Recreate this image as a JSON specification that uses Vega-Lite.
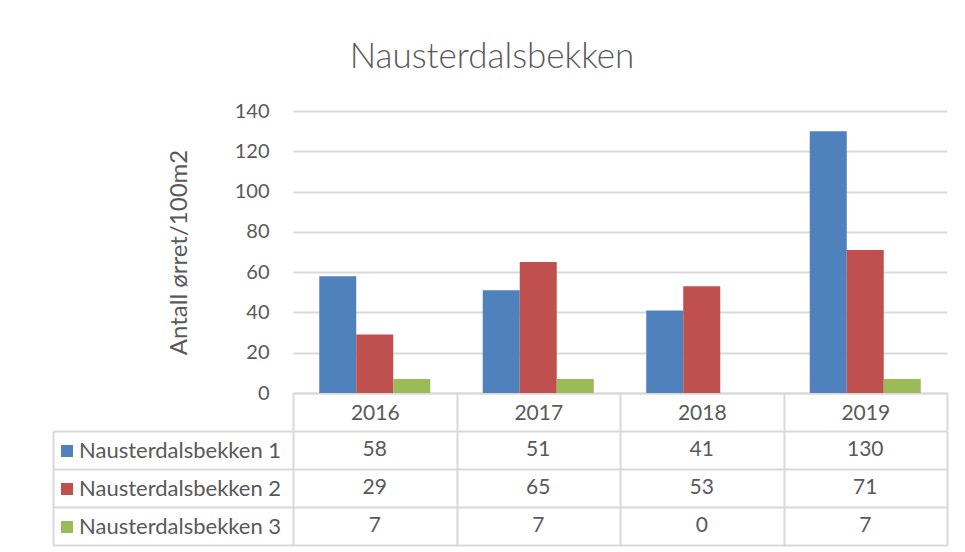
{
  "$schema": "https://vega.github.io/schema/vega-lite/v6.json",
  "background": "white",
  "padding": {"left": 52, "top": 40, "right": 5, "bottom": 5},
  "title": {"text": "Nausterdalsbekken", "fontSize": 35, "font": "Lato", "fontWeight": 300, "color": "#595959", "anchor": "middle", "offset": 26, "dx": -8},
  "config": {
    "font": "Lato",
    "view": {"stroke": null},
    "concat": {"spacing": -2}
  },
  "data": {
    "values": [
      {"year": "2016", "series": "Nausterdalsbekken 1", "value": 58},
      {"year": "2017", "series": "Nausterdalsbekken 1", "value": 51},
      {"year": "2018", "series": "Nausterdalsbekken 1", "value": 41},
      {"year": "2019", "series": "Nausterdalsbekken 1", "value": 130},
      {"year": "2016", "series": "Nausterdalsbekken 2", "value": 29},
      {"year": "2017", "series": "Nausterdalsbekken 2", "value": 65},
      {"year": "2018", "series": "Nausterdalsbekken 2", "value": 53},
      {"year": "2019", "series": "Nausterdalsbekken 2", "value": 71},
      {"year": "2016", "series": "Nausterdalsbekken 3", "value": 7},
      {"year": "2017", "series": "Nausterdalsbekken 3", "value": 7},
      {"year": "2018", "series": "Nausterdalsbekken 3", "value": 0},
      {"year": "2019", "series": "Nausterdalsbekken 3", "value": 7}
    ]
  },
  "resolve": {"scale": {"x": "shared", "y": "independent", "color": "shared"}},
  "vconcat": [
    {
      "width": 654,
      "height": 282,
      "mark": {"type": "bar"},
      "encoding": {
        "x": {
          "field": "year", "type": "nominal",
          "scale": {"paddingInner": 0, "paddingOuter": 0},
          "axis": {"title": null, "labelAngle": 0, "domainColor": "#d9d9d9", "domainWidth": 2, "tickColor": "#d9d9d9", "tickWidth": 2, "tickSize": 37, "tickBand": "extent", "labelPadding": -28, "labelFontSize": 21, "labelColor": "#595959", "grid": false}
        },
        "y": {
          "field": "value", "type": "quantitative",
          "scale": {"domain": [0, 140], "nice": false},
          "axis": {"values": [0, 20, 40, 60, 80, 100, 120, 140], "title": "Antall ørret/100m2", "domain": false, "ticks": false, "labelPadding": 24, "labelFontSize": 20, "labelColor": "#595959", "gridColor": "#d9d9d9", "gridWidth": 2, "titleFontSize": 24, "titleFontWeight": "normal", "titleColor": "#595959", "titlePadding": 43}
        },
        "xOffset": {"field": "series", "type": "nominal", "scale": {"paddingInner": 0, "paddingOuter": 0.709}},
        "color": {
          "field": "series", "type": "nominal",
          "scale": {"range": ["#4F81BD", "#C0504D", "#9BBB59"]},
          "legend": {"orient": "none", "legendX": -237, "legendY": 329, "title": null, "symbolType": "square", "symbolSize": 144, "symbolStrokeWidth": 0, "labelFontSize": 22, "labelColor": "#595959", "rowPadding": 16, "labelLimit": 400, "labelOffset": 1}
        }
      }
    },
    {
      "width": 654,
      "height": 114,
      "mark": {"type": "text", "fontSize": 21, "color": "#595959"},
      "encoding": {
        "x": {
          "field": "year", "type": "nominal",
          "axis": {"title": null, "labels": false, "ticks": false, "domain": false, "grid": true, "gridColor": "#d9d9d9", "gridWidth": 2, "tickBand": "extent"}
        },
        "y": {
          "field": "series", "type": "nominal",
          "scale": {"paddingInner": 0, "paddingOuter": 0},
          "axis": {"title": null, "labels": false, "offset": 240, "domain": true, "domainColor": "#d9d9d9", "domainWidth": 2, "ticks": true, "tickSize": -240, "tickColor": "#d9d9d9", "tickWidth": 2, "tickBand": "extent", "grid": true, "gridColor": "#d9d9d9", "gridWidth": 2}
        },
        "text": {"field": "value", "type": "quantitative"}
      }
    }
  ]
}
